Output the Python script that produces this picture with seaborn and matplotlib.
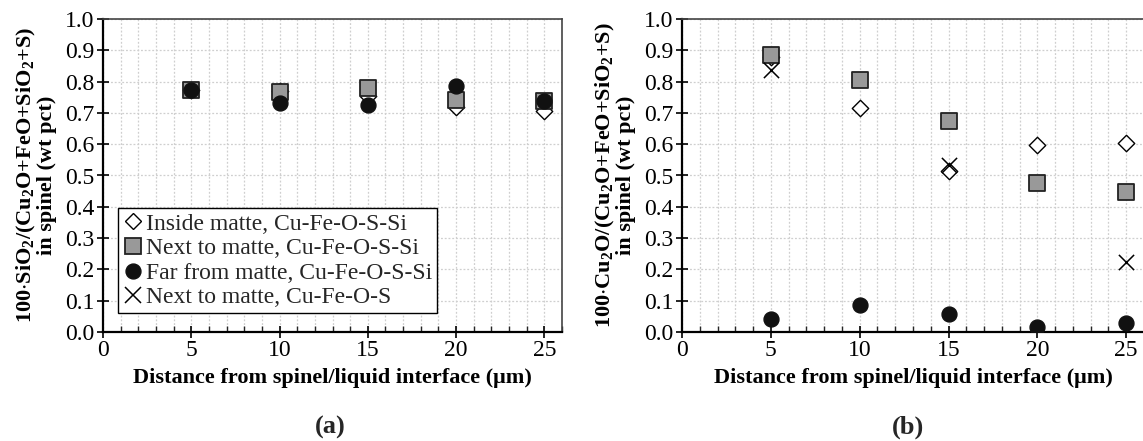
import matplotlib
matplotlib.use("Agg")
import matplotlib.pyplot as plt
from matplotlib.lines import Line2D
from matplotlib.ticker import MultipleLocator
import seaborn as sns
import pandas as pd

# Distances from the spinel/liquid interface (um)
distance = [5, 10, 15, 20, 25]

# (a) 100*SiO2/(Cu2O+FeO+SiO2+S) in spinel
sio2_inside = [0.772, 0.770, 0.755, 0.720, 0.705]
sio2_next = [0.772, 0.768, 0.778, 0.742, 0.737]
sio2_far = [0.772, 0.732, 0.724, 0.785, 0.738]

# (b) 100*Cu2O/(Cu2O+FeO+SiO2+S) in spinel
cu2o_inside = [0.880, 0.716, 0.513, 0.597, 0.604]
cu2o_next = [0.885, 0.805, 0.673, 0.477, 0.447]
cu2o_far = [0.040, 0.085, 0.057, 0.017, 0.030]
cu2o_next_nosi_x = [5, 15, 25]
cu2o_next_nosi = [0.836, 0.533, 0.224]

series_labels = [
    "Inside matte, Cu-Fe-O-S-Si",
    "Next to matte, Cu-Fe-O-S-Si",
    "Far from matte, Cu-Fe-O-S-Si",
    "Next to matte, Cu-Fe-O-S",
]
x_label = "Distance from spinel/liquid interface (\u03bcm)"
y_label_a = "100$\\cdot$SiO$_2$/(Cu$_2$O+FeO+SiO$_2$+S)\nin spinel (wt pct)"
y_label_b = "100$\\cdot$Cu$_2$O/(Cu$_2$O+FeO+SiO$_2$+S)\nin spinel (wt pct)"

sns.set_theme(style="white")
plt.rcParams["font.family"] = ["Liberation Serif", "DejaVu Serif"]
plt.rcParams["mathtext.fontset"] = "custom"
plt.rcParams["mathtext.rm"] = "Liberation Serif"
plt.rcParams["mathtext.bf"] = "Liberation Serif:bold"
plt.rcParams["mathtext.it"] = "Liberation Serif:italic"
plt.rcParams["mathtext.default"] = "regular"

styles = {
    "inside": dict(marker="D", facecolor="white", edgecolor="black", s=70, linewidth=1.0),
    "next": dict(marker="s", facecolor="#999999", edgecolor="#222222", s=130, linewidth=1.3),
    "far": dict(marker="o", facecolor="#111111", edgecolor="#111111", s=115, linewidth=1.0),
    "nosi": dict(marker="x", facecolor="black", edgecolor="black", s=120, linewidth=1.1),
}

fig = plt.figure(figsize=(11.43, 4.41), dpi=100)
ax_a = fig.add_axes([103 / 1143, 109 / 441, 459 / 1143, 313 / 441])
ax_b = fig.add_axes([682 / 1143, 109 / 441, 462 / 1143, 313 / 441])


def draw(ax, x, y, key):
    st = styles[key]
    df = pd.DataFrame({"d": x, "v": y})
    if st["marker"] == "x":
        sns.scatterplot(data=df, x="d", y="v", ax=ax, marker="x", color=st["edgecolor"],
                        s=st["s"], linewidth=st["linewidth"], zorder=4, legend=False)
    else:
        sns.scatterplot(data=df, x="d", y="v", ax=ax, marker=st["marker"],
                        color=st["facecolor"], edgecolor=st["edgecolor"], s=st["s"],
                        linewidth=st["linewidth"], zorder=3, legend=False)


draw(ax_a, distance, sio2_inside, "inside")
draw(ax_a, distance, sio2_next, "next")
draw(ax_a, distance, sio2_far, "far")

draw(ax_b, distance, cu2o_inside, "inside")
draw(ax_b, distance, cu2o_next, "next")
draw(ax_b, distance, cu2o_far, "far")
draw(ax_b, cu2o_next_nosi_x, cu2o_next_nosi, "nosi")

for ax, ylab in ((ax_a, y_label_a), (ax_b, y_label_b)):
    ax.set_xlim(0, 26)
    ax.set_ylim(0, 1.0)
    ax.xaxis.set_major_locator(MultipleLocator(5))
    ax.xaxis.set_minor_locator(MultipleLocator(1))
    ax.yaxis.set_major_locator(MultipleLocator(0.1))
    ax.set_yticklabels([f"{v:.1f}" for v in ax.get_yticks()])
    ax.grid(which="major", axis="y", color="#cfcfcf", linestyle=(0, (1.5, 1.5)), linewidth=0.9)
    ax.grid(which="both", axis="x", color="#cfcfcf", linestyle=(0, (1.5, 1.5)), linewidth=0.9)
    ax.set_axisbelow(True)
    ax.tick_params(axis="both", which="major", labelsize=17, colors="black",
                   direction="inout", length=8, width=1.2, pad=2)
    ax.tick_params(axis="x", which="minor", direction="in", length=4, width=1.0,
                   bottom=True, top=False)
    ax.tick_params(axis="y", which="both", left=True, right=False)
    ax.tick_params(axis="x", which="major", bottom=True, top=False)
    for side in ("left", "bottom"):
        ax.spines[side].set_color("black")
        ax.spines[side].set_linewidth(1.6)
    for side in ("top", "right"):
        ax.spines[side].set_color("#444444")
        ax.spines[side].set_linewidth(1.2)
    ax.set_xlabel(x_label, fontsize=16, fontweight="bold", labelpad=5, color="black")
    ax.set_ylabel(ylab, fontsize=16, fontweight="bold", labelpad=6, color="black",
                  linespacing=0.95)

handles = []
for key, lab in zip(["inside", "next", "far", "nosi"], series_labels):
    st = styles[key]
    ms = st["s"] ** 0.5
    if st["marker"] == "x":
        handles.append(Line2D([], [], linestyle="none", marker="x", color="black",
                              markersize=ms, markeredgewidth=st["linewidth"], label=lab))
    else:
        handles.append(Line2D([], [], linestyle="none", marker=st["marker"],
                              markerfacecolor=st["facecolor"], markeredgecolor=st["edgecolor"],
                              markersize=ms, markeredgewidth=st["linewidth"], label=lab))

leg = ax_a.legend(handles=handles, loc="upper left", bbox_to_anchor=(0.033, 0.395),
                  fontsize=17, frameon=True, fancybox=False, framealpha=1,
                  edgecolor="black", handlelength=0.9, handletextpad=0.1,
                  borderpad=0.2, labelspacing=0.13, borderaxespad=0)
leg.get_frame().set_linewidth(1.0)

fig.text(330 / 1143, 1 - 427 / 441, "(a)", fontsize=19, fontweight="bold",
         ha="center", va="center")
fig.text(908 / 1143, 1 - 427 / 441, "(b)", fontsize=19, fontweight="bold",
         ha="center", va="center")

fig.savefig("out.png", dpi=100)
